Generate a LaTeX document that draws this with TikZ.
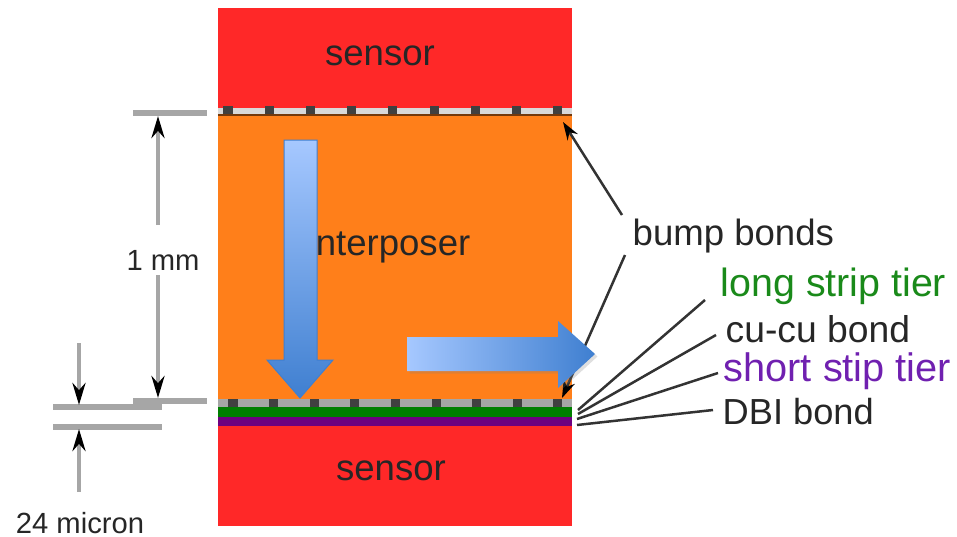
\documentclass[tikz,border=0pt]{standalone}
\usepackage{fontspec}
\setmainfont{Liberation Sans}
\usepackage{xcolor}
\usetikzlibrary{arrows.meta, positioning, shadows}
\definecolor{sensorred}{HTML}{FF2828}
\definecolor{interorange}{HTML}{FF7F1A}
\definecolor{tiergreen}{HTML}{007F00}
\definecolor{tierpurple}{HTML}{6F0080}
\definecolor{labelgreen}{HTML}{1A8A1A}
\definecolor{labelpurple}{HTML}{7020B0}
\definecolor{dimgrey}{HTML}{A6A6A6}
\definecolor{flowlight}{HTML}{A6C8FF}
\definecolor{flowdark}{HTML}{3F7FD0}

\begin{document}
\begin{tikzpicture}[
    x=0.01cm, y=-0.01cm,
    node distance=0pt,
    text=black!85,
    layer/.style={minimum width=3.54cm, inner sep=0pt, outer sep=0pt},
    bump/.style={fill=black!75, minimum width=0.09cm, minimum height=0.08cm, inner sep=0pt},
    tag/.style={font=\fontsize{10.4pt}{12pt}\selectfont, inner sep=0pt, anchor=west},
    sensortext/.style={font=\fontsize{10.4pt}{12pt}\selectfont, inner sep=0pt},
    dimtext/.style={font=\fontsize{8.3pt}{10pt}\selectfont, inner sep=0pt},
    dimline/.style={dimgrey, line width=0.055cm},
    dimarrow/.style={dimgrey, line width=0.04cm, -{Stealth[length=0.22cm, width=0.13cm, black]}},
    leader/.style={black!80, line width=0.025cm},
    pointer/.style={leader, -{Stealth[length=0.18cm, width=0.12cm, black]}},
    flow/.style={draw=flowdark, line width=0.01cm}
]
\useasboundingbox (0,0) rectangle (957,536);

% layer stack
\node[layer, minimum height=1cm, fill=sensorred] (sensortop) at (395,58) {};
\node[layer, minimum height=0.07cm, below=of sensortop, fill=black!15] (bandtop) {};
\node[layer, minimum height=2.84cm, below=of bandtop, fill=interorange] (interposer) {};
\node[layer, minimum height=0.08cm, below=of interposer, fill=black!35] (bandbot) {};
\node[layer, minimum height=0.1cm, below=of bandbot, fill=tiergreen] (longtier) {};
\node[layer, minimum height=0.09cm, below=of longtier, fill=tierpurple] (shorttier) {};
\node[layer, minimum height=1cm, below=of shorttier, fill=sensorred] (sensorbot) {};
\draw[black!55!interorange, line width=0.02cm] (interposer.north west) -- (interposer.north east);

% bumps
\foreach \i in {0,...,8} {
    \node[bump] (bt\i) at ({228+41.2*\i},110) {};
    \node[bump] (bb\i) at ({233+40.6*\i},403) {};
}

% layer labels
\node[sensortext] (sensortoplabel) at (380,56) {sensor};
\node[sensortext] (sensorbotlabel) at (391,471) {sensor};
\node[sensortext] (interlabel) at (389,246) {interposer};

% right labels
\node[tag] (bumplabel) at (632,236) {bump bonds};
\node[tag, text=labelgreen, font=\fontsize{11.2pt}{12pt}\selectfont] (longlabel) at (720,286) {long strip tier};
\node[tag, font=\fontsize{10.6pt}{12pt}\selectfont] (culabel) at (725,329) {cu-cu bond};
\node[tag, text=labelpurple, font=\fontsize{11.3pt}{12pt}\selectfont] (shortlabel) at (723,371) {short stip tier};
\node[tag, font=\fontsize{10.3pt}{12pt}\selectfont] (dbilabel) at (722,412) {DBI bond};

\coordinate (bumpup) at (622,215);
\coordinate (bumpdown) at (625,255);
\coordinate (bumpuptip) at (563,122);
\coordinate (bumpdowntip) at (562,398);
\draw[pointer] (bumpup) -- (bumpuptip);
\draw[pointer] (bumpdown) -- (bumpdowntip);

% leaders
\coordinate (longend) at (578,410);
\coordinate (cuend) at (578,414);
\coordinate (shortend) at (577,419);
\coordinate (dbiend) at (577,425);
\draw[leader] (longlabel.west) ++(-15,14) -- (longend);
\draw[leader] (culabel.west) ++(-9,6) -- (cuend);
\draw[leader] (shortlabel.west) ++(-5,2) -- (shortend);
\draw[leader] (dbilabel.west) ++(-9,-2) -- (dbiend);

% flow arrows
\path[flow, top color=flowlight, bottom color=flowdark]
    (284,140) -- (317,140) -- (317,360) -- (333,360) -- (300,398) -- (267,360) -- (284,360) -- cycle;
\path[left color=flowlight, right color=flowdark, drop shadow={opacity=0.25, shadow xshift=0.025cm, shadow yshift=-0.025cm}]
    (407,337) -- (558,337) -- (558,321) -- (595,354) -- (558,388) -- (558,371) -- (407,371) -- cycle;

% dimensions
\coordinate (onetop) at (158,116);
\coordinate (onebot) at (158,398);
\coordinate (gaptop) at (79,405);
\coordinate (gapbot) at (79,429);
\coordinate (gapupend) at (79,343);
\coordinate (gapdownend) at (79,492);
\draw[dimline] (133,113) -- (207,113);
\draw[dimline] (133,401) -- (207,401);
\draw[dimline] (53,407) -- (162,407);
\draw[dimline] (53,427) -- (162,427);
\node[dimtext] (onemm) at (163,260) {1 mm};
\node[dimtext] (micron) at (80,523) {24 micron};
\draw[dimarrow] (158,225) -- (onetop);
\draw[dimarrow] (158,275) -- (onebot);
\draw[dimarrow] (gapupend) -- (gaptop);
\draw[dimarrow] (gapdownend) -- (gapbot);

\end{tikzpicture}
\end{document}
